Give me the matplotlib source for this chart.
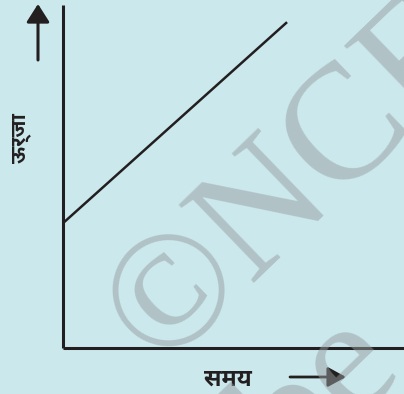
import matplotlib
matplotlib.use("Agg")
import matplotlib.pyplot as plt
from matplotlib import font_manager
from matplotlib.font_manager import FontProperties
from matplotlib.patches import FancyArrowPatch

# ---- data ----
time_vals = [0.0, 10.0]
energy_vals = [3.64, 9.5]
x_label = "समय"
y_label = "ऊर्जा"
watermark_main = "©NCERT"
watermark_sub = "be"

# ---- find a Devanagari font ----
prefs = ["NotoSansDevanagari-Bold", "NotoSansDevanagari-SemiBold", "NotoSansDevanagari-Regular",
         "NotoSansDevanagariUI-Bold", "Mukta-Bold", "Khula-Bold", "MartelSans-Bold", "Jaldi-Bold"]
files = font_manager.findSystemFonts()
deva_path = None
for p in prefs:
    for f in files:
        name = f.split('/')[-1].rsplit('.', 1)[0]
        if name == p:
            deva_path = f
            break
    if deva_path:
        break
if deva_path is None:
    from matplotlib.ft2font import FT2Font
    for f in files:
        try:
            if 0x0938 in FT2Font(f).get_charmap():
                deva_path = f
                break
        except Exception:
            pass
deva = FontProperties(fname=deva_path) if deva_path else FontProperties()

BG = "#cbe9ed"
INK = "#231f20"

fig = plt.figure(figsize=(4.04, 3.94), dpi=100, facecolor=BG)
W, H = 404, 394
ax_left, ax_bottom_px, ax_top_px, ax_right = 63, 348, 5, 404
ax = fig.add_axes([ax_left / W, (H - ax_bottom_px) / H,
                   (ax_right - ax_left) / W, (ax_bottom_px - ax_top_px) / H])
ax.set_facecolor(BG)
ax.set_xlim(0, 15.22)
ax.set_ylim(0, 10)
for s in ["top", "right"]:
    ax.spines[s].set_visible(False)
for s in ["left", "bottom"]:
    ax.spines[s].set_linewidth(2.2)
    ax.spines[s].set_color(INK)
    ax.spines[s].set_capstyle("butt")
ax.set_xticks([])
ax.set_yticks([])

ax.plot(time_vals, energy_vals, color=INK, lw=1.8, solid_capstyle="butt")

def fp(x, y):
    return (x / W, 1 - y / H)

# up arrow
fig.add_artist(FancyArrowPatch(fp(38, 60), fp(38, 4), transform=fig.transFigure,
                               arrowstyle="-|>,head_length=1.1,head_width=0.7",
                               mutation_scale=10, lw=2.2, color=INK, shrinkA=0, shrinkB=0))
# right arrow
fig.add_artist(FancyArrowPatch(fp(290, 377), fp(346, 377), transform=fig.transFigure,
                               arrowstyle="-|>,head_length=1.1,head_width=0.6",
                               mutation_scale=10, lw=2.0, color=INK, shrinkA=0, shrinkB=0))

fp_x = deva.copy()
fp_x.set_size(17)
fig.text(*fp(228, 377), x_label, fontproperties=fp_x, ha="center", va="center",
         color=INK)
fp_y = deva.copy()
fp_y.set_size(15)
fig.text(*fp(22, 138), y_label, fontproperties=fp_y, ha="center", va="center",
         color=INK, rotation=90)

# watermark
wm_color = (0.59, 0.61, 0.62)
fig.text(*fp(368, 111), watermark_main, family="Liberation Serif", fontsize=119,
         rotation=44, rotation_mode="anchor", ha="center", va="center",
         color=wm_color, alpha=0.5, zorder=10)
fig.text(*fp(322, 398), watermark_sub, family="Liberation Serif", fontsize=119,
         rotation=44, rotation_mode="anchor", ha="center", va="center",
         color=wm_color, alpha=0.5, zorder=10)

fig.savefig("out.png", facecolor=BG)
